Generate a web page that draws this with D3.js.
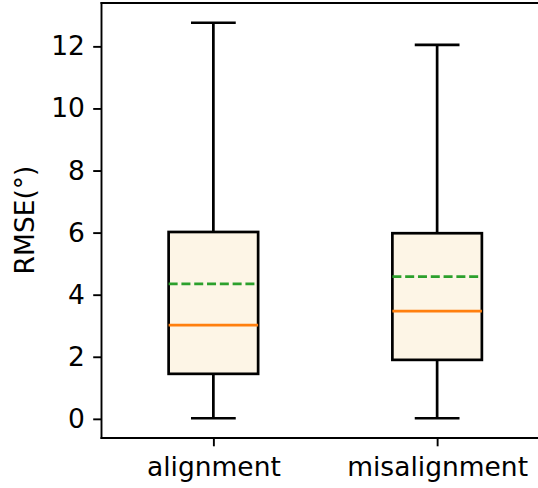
<!DOCTYPE html>
<html>
<head>
<meta charset="utf-8">
<script src="https://cdn.jsdelivr.net/npm/d3@7"></script>
<style>
  body { margin: 0; background: white; }
  svg { display: block; }
</style>
</head>
<body>
<div id="chart"></div>
<script>
const W = 538, H = 488
const MARGIN = {top: 3, bot: 50, left: 101.5, right: -11}

const categories = ["alignment", "misalignment"]
const whiskerLow = [0.02, 0.02]
const q1 = [1.45, 1.90]
const median = [3.02, 3.47]
const mean = [4.35, 4.58]
const q3 = [6.02, 5.98]
const whiskerHigh = [12.76, 12.05]
const yTicks = [0, 2, 4, 6, 8, 10, 12]

const boxes = categories.map((c, i) => ({
    cat: c, pos: i + 1,
    lo: whiskerLow[i], q1: q1[i], med: median[i], mean: mean[i], q3: q3[i], hi: whiskerHigh[i]
}))

const FONT = "DejaVu Sans, sans-serif"
const FS = 26.5

const svg = d3.select("#chart")
    .append("svg")
    .attr("width", W)
    .attr("height", H)

const x = d3.scaleLinear()
    .domain([0.5, 2.5])
    .range([MARGIN.left, W - MARGIN.right])

const ymin = d3.min(whiskerLow), ymax = d3.max(whiskerHigh)
const pad = (ymax - ymin) * 0.05
const y = d3.scaleLinear()
    .domain([ymin - pad, ymax + pad])
    .range([H - MARGIN.bot, MARGIN.top])

const boxW = 0.4, capW = 0.2
const LW = 2.7

const g = svg.append("g")

// whiskers
g.selectAll(".whisk-lo").data(boxes).join("line")
    .attr("x1", d => x(d.pos)).attr("x2", d => x(d.pos))
    .attr("y1", d => y(d.q1)).attr("y2", d => y(d.lo))
    .attr("stroke", "black").attr("stroke-width", LW)
g.selectAll(".whisk-hi").data(boxes).join("line")
    .attr("x1", d => x(d.pos)).attr("x2", d => x(d.pos))
    .attr("y1", d => y(d.q3)).attr("y2", d => y(d.hi))
    .attr("stroke", "black").attr("stroke-width", LW)

// caps
;["lo", "hi"].forEach(k => {
    g.selectAll(".cap-" + k).data(boxes).join("line")
        .attr("x1", d => x(d.pos - capW / 2)).attr("x2", d => x(d.pos + capW / 2))
        .attr("y1", d => y(d[k])).attr("y2", d => y(d[k]))
        .attr("stroke", "black").attr("stroke-width", LW)
})

// boxes
g.selectAll("rect").data(boxes).join("rect")
    .attr("x", d => x(d.pos - boxW / 2))
    .attr("width", d => x(d.pos + boxW / 2) - x(d.pos - boxW / 2))
    .attr("y", d => y(d.q3))
    .attr("height", d => y(d.q1) - y(d.q3))
    .attr("fill", "#fdf5e6")
    .attr("stroke", "black")
    .attr("stroke-width", LW)

// median
g.selectAll(".med").data(boxes).join("line")
    .attr("x1", d => x(d.pos - boxW / 2)).attr("x2", d => x(d.pos + boxW / 2))
    .attr("y1", d => y(d.med)).attr("y2", d => y(d.med))
    .attr("stroke", "#ff7f0e").attr("stroke-width", LW)

// mean
g.selectAll(".mean").data(boxes).join("line")
    .attr("x1", d => x(d.pos - boxW / 2)).attr("x2", d => x(d.pos + boxW / 2))
    .attr("y1", d => y(d.mean)).attr("y2", d => y(d.mean))
    .attr("stroke", "#2ca02c").attr("stroke-width", LW)
    .attr("stroke-dasharray", "9,3.8")

// axes
const yAxis = d3.axisLeft(y).tickValues(yTicks).tickSize(8.3).tickPadding(8.3).tickSizeOuter(0)
const xAxis = d3.axisBottom(x).tickValues([1, 2]).tickFormat((d, i) => categories[i])
    .tickSize(8.3).tickPadding(10.5).tickSizeOuter(0)

const ya = svg.append("g")
    .attr("transform", `translate(${MARGIN.left},0)`)
    .call(yAxis)
ya.select(".domain").remove()

const xa = svg.append("g")
    .attr("transform", `translate(0,${H - MARGIN.bot})`)
    .call(xAxis)
xa.select(".domain").remove()

svg.selectAll(".tick line").attr("stroke", "black").attr("stroke-width", 1.9)
svg.selectAll(".tick text").attr("font-family", FONT).attr("font-size", FS).attr("fill", "black")

// spines
const spine = (x1, y1, x2, y2) => svg.append("line")
    .attr("x1", x1).attr("y1", y1).attr("x2", x2).attr("y2", y2)
    .attr("stroke", "black").attr("stroke-width", 1.9).attr("stroke-linecap", "square")
spine(MARGIN.left, MARGIN.top, MARGIN.left, H - MARGIN.bot)
spine(MARGIN.left, H - MARGIN.bot, W - MARGIN.right, H - MARGIN.bot)
spine(MARGIN.left, MARGIN.top, W - MARGIN.right, MARGIN.top)

// y label
svg.append("text")
    .attr("transform", `translate(34,220) rotate(-90)`)
    .attr("text-anchor", "middle")
    .attr("font-family", FONT)
    .attr("font-size", FS)
    .text("RMSE(°)")
</script>
</body>
</html>
